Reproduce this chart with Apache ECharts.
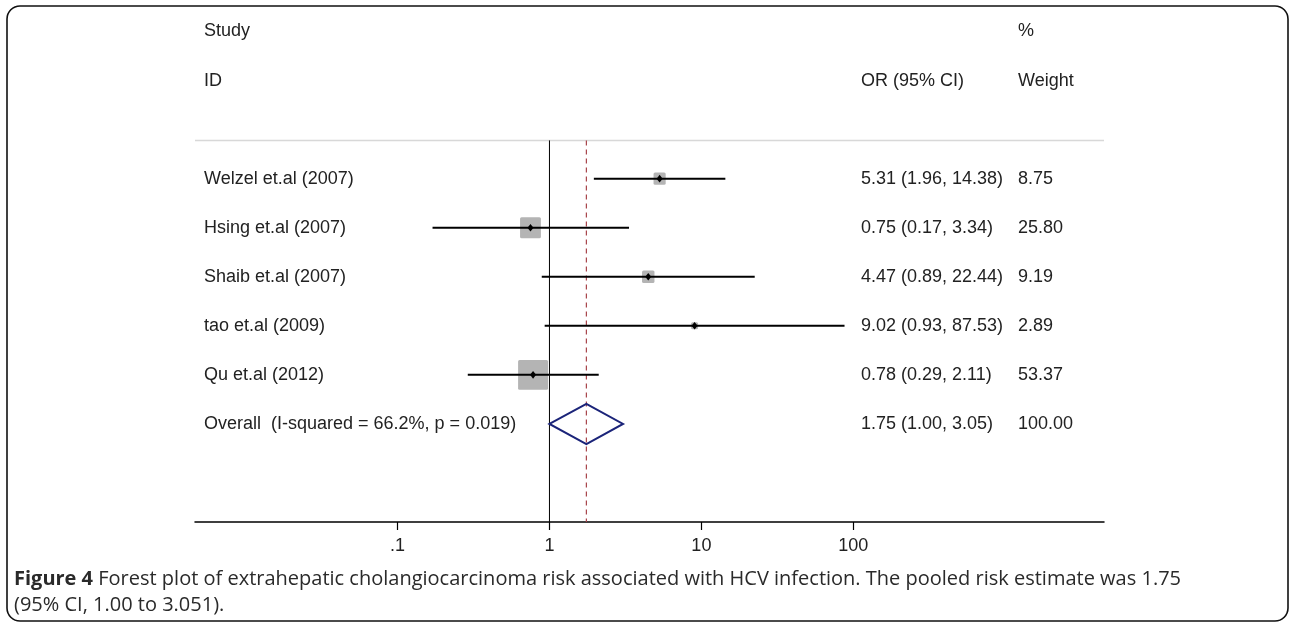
<!DOCTYPE html>
<html>
<head>
<meta charset="utf-8">
<script src="https://cdn.jsdelivr.net/npm/echarts@6/dist/echarts.min.js"></script>
<style>html,body{margin:0;padding:0;background:#fff;}#c{width:1289px;height:625px;}</style>
</head>
<body>
<div id="c"></div>
<script>
const studies = ['Welzel et.al (2007)', 'Hsing et.al (2007)', 'Shaib et.al (2007)', 'tao et.al (2009)', 'Qu et.al (2012)'];
const orValues = [5.31, 0.75, 4.47, 9.02, 0.78];
const ciLower = [1.96, 0.17, 0.89, 0.93, 0.29];
const ciUpper = [14.38, 3.34, 22.44, 87.53, 2.11];
const weights = [8.75, 25.80, 9.19, 2.89, 53.37];
const overallLabel = 'Overall  (I-squared = 66.2%, p = 0.019)';
const overallOR = 1.75;
const overallLower = 1.00;
const overallUpper = 3.05;
const overallWeight = 100.00;
const xTickValues = [0.1, 1, 10, 100];
const xTickLabels = ['.1', '1', '10', '100'];
const headers = { study: 'Study', id: 'ID', or: 'OR (95% CI)', pct: '%', weight: 'Weight' };
const captionBold = 'Figure 4';
const captionLine1 = ' Forest plot of extrahepatic cholangiocarcinoma risk associated with HCV infection. The pooled risk estimate was 1.75';
const captionLine2 = '(95% CI, 1.00 to 3.051).';

const L = Math.log10;
const fmt2 = v => v.toFixed(2);
const orText = (o, lo, hi) => fmt2(o) + ' (' + fmt2(lo) + ', ' + fmt2(hi) + ')';

const FONT = '"Liberation Sans", Arial, sans-serif';
const TXT = '#222';
const COL_NAME_X = 204, COL_OR_X = 861, COL_W_X = 1018;
const SEP_Y = -0.78, AXIS_Y = 7;
const X_MIN = -2.333, X_MAX = 3.65;

const chart = echarts.init(document.getElementById('c'), null, { renderer: 'canvas' });

function txt(x, y, s) {
  return { type: 'text', style: { x: x, y: y, text: s, fill: TXT, font: '18px ' + FONT, textAlign: 'left', textVerticalAlign: 'middle' } };
}

const rowData = studies.map((s, i) => [i]);

const option = {
  animation: false,
  grid: { left: 195, right: 185, top: 7, bottom: 103, containLabel: false },
  xAxis: {
    type: 'value', min: X_MIN, max: X_MAX,
    axisLine: { show: true, onZero: false, lineStyle: { color: '#000', width: 1.5 } },
    axisTick: { show: true, length: 8, customValues: xTickValues.map(L), lineStyle: { color: '#000', width: 1.2 } },
    axisLabel: {
      show: true, margin: 15, fontSize: 18, color: TXT, fontFamily: FONT,
      customValues: xTickValues.map(L),
      formatter: function (v) {
        for (let k = 0; k < xTickValues.length; k++) if (Math.abs(L(xTickValues[k]) - v) < 1e-6) return xTickLabels[k];
        return '';
      }
    },
    splitLine: { show: false }
  },
  yAxis: { type: 'value', min: -3.5, max: AXIS_Y, inverse: true, show: false, splitLine: { show: false } },
  series: [
    {
      type: 'custom', silent: true, clip: false, z: 1,
      data: [[0]],
      renderItem: function (params, api) {
        const xs = api.coord([X_MIN, SEP_Y]), xe = api.coord([X_MAX, SEP_Y]);
        const n0 = api.coord([L(1), SEP_Y]), n1 = api.coord([L(1), AXIS_Y]);
        const r0 = api.coord([L(overallOR), SEP_Y]), r1 = api.coord([L(overallOR), AXIS_Y]);
        return { type: 'group', children: [
          { type: 'line', shape: { x1: xs[0], y1: xs[1], x2: xe[0], y2: xe[1] }, style: { stroke: '#d8d8d8', lineWidth: 1.5 } },
          { type: 'line', shape: { x1: n0[0], y1: n0[1], x2: n1[0], y2: n1[1] }, style: { stroke: '#000', lineWidth: 1 } },
          { type: 'line', shape: { x1: r0[0], y1: r0[1], x2: r1[0], y2: r1[1] }, style: { stroke: '#a8444a', lineWidth: 1.2, lineDash: [5, 4] } }
        ] };
      }
    },
    {
      type: 'custom', silent: true, clip: false, z: 3,
      data: rowData,
      renderItem: function (params, api) {
        const i = api.value(0);
        const p = api.coord([L(orValues[i]), i]);
        const a = api.coord([L(ciLower[i]), i]);
        const b = api.coord([L(ciUpper[i]), i]);
        const sz = 4.1 * Math.sqrt(weights[i]);
        const d = 3.8;
        return { type: 'group', children: [
          { type: 'rect', shape: { x: p[0] - sz / 2, y: p[1] - sz / 2, width: sz, height: sz, r: 1.5 }, style: { fill: '#b4b4b4' } },
          { type: 'line', shape: { x1: a[0], y1: a[1], x2: b[0], y2: b[1] }, style: { stroke: '#000', lineWidth: 2 } },
          { type: 'polygon', shape: { points: [[p[0], p[1] - d], [p[0] + d * 0.8, p[1]], [p[0], p[1] + d], [p[0] - d * 0.8, p[1]]] }, style: { fill: '#000' } },
          txt(COL_NAME_X, p[1], studies[i]),
          txt(COL_OR_X, p[1], orText(orValues[i], ciLower[i], ciUpper[i])),
          txt(COL_W_X, p[1], fmt2(weights[i]))
        ] };
      }
    },
    {
      type: 'custom', silent: true, clip: false, z: 4,
      data: [[studies.length]],
      renderItem: function (params, api) {
        const r = api.value(0);
        const h = 0.41;
        const pL = api.coord([L(overallLower), r]);
        const pT = api.coord([L(overallOR), r - h]);
        const pR = api.coord([L(overallUpper), r]);
        const pB = api.coord([L(overallOR), r + h]);
        const hy1 = api.coord([0, -3])[1], hy2 = api.coord([0, -2])[1];
        return { type: 'group', children: [
          { type: 'polygon', shape: { points: [pL, pT, pR, pB] }, style: { fill: 'none', stroke: '#1b2479', lineWidth: 2 } },
          txt(COL_NAME_X, pL[1], overallLabel),
          txt(COL_OR_X, pL[1], orText(overallOR, overallLower, overallUpper)),
          txt(COL_W_X, pL[1], fmt2(overallWeight)),
          txt(COL_NAME_X, hy1, headers.study),
          txt(COL_NAME_X, hy2, headers.id),
          txt(COL_OR_X, hy2, headers.or),
          txt(COL_W_X, hy1, headers.pct),
          txt(COL_W_X, hy2, headers.weight)
        ] };
      }
    }
  ],
  graphic: [
    { type: 'rect', shape: { x: 7, y: 6, width: 1281, height: 615, r: 13 }, style: { fill: 'none', stroke: '#111', lineWidth: 1.6 }, z: 0, silent: true },
    {
      type: 'text', left: 14, top: 569, silent: true,
      style: {
        text: '{b|' + captionBold + '}{n|' + captionLine1 + '}\n{n|' + captionLine2 + '}',
        rich: {
          b: { fontFamily: '"Open Sans", sans-serif', fontWeight: 'bold', fontSize: 20, fill: '#2a2a2a', lineHeight: 26 },
          n: { fontFamily: '"Open Sans", sans-serif', fontSize: 20, fill: '#2a2a2a', lineHeight: 26 }
        }
      }
    }
  ]
};
chart.setOption(option);
</script>
</body>
</html>
